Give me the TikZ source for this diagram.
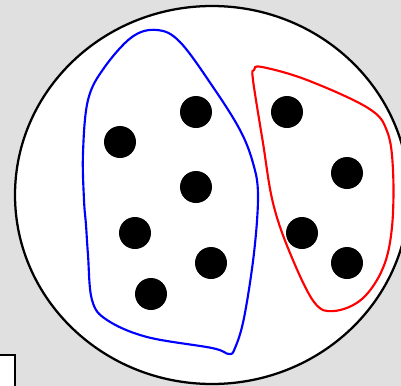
\documentclass[tikz,border=0pt]{standalone}
\begin{document}
\begin{tikzpicture}[x=0.75pt,y=-0.75pt,
  dot/.style={circle,fill=black,inner sep=0pt,minimum size=24pt},
  rim/.style={draw=black,line width=1.7pt},
  setline/.style={line width=1.6pt}]
\definecolor{bggray}{RGB}{224,224,224}
\fill[bggray] (0,0) rectangle (401,386);
\useasboundingbox (0,0) rectangle (401,386);
\begin{scope}
\clip (0,0) rectangle (401,386);
\draw[rim,fill=white] (212,195) ellipse [x radius=197, y radius=189];
\draw[rim,fill=white] (-5,355) rectangle (15,392);
\end{scope}
% dots
\node[dot] (d1) at (196,112) {};
\node[dot] (d2) at (120,142) {};
\node[dot] (d3) at (196,187) {};
\node[dot] (d4) at (135,233) {};
\node[dot] (d5) at (211,263) {};
\node[dot] (d6) at (151,294) {};
\node[dot] (d7) at (287,112) {};
\node[dot] (d8) at (347,173) {};
\node[dot] (d9) at (302,233) {};
\node[dot] (d10) at (347,263) {};
% blue set
\draw[setline,blue] plot[smooth cycle,tension=0.6] coordinates {
 (157,30) (180,42) (213,87) (240,130) (253,163) (258,195) (254,253)
 (244,318) (235,348) (229,354) (212,348) (147,337) (107,320) (92,300)
 (88,255) (86,225) (84,200) (83,153) (88,100) (104,68) (132,37)};
% red set
\draw[setline,red] plot[smooth cycle,tension=0.6] coordinates {
 (262,67) (307,80) (368,108) (387,131) (393,170) (392,227) (383,268)
 (362,299) (334,311) (314,302) (290,253) (273,203) (263,143)
 (253,80) (254,70)};
\end{tikzpicture}
\end{document}
